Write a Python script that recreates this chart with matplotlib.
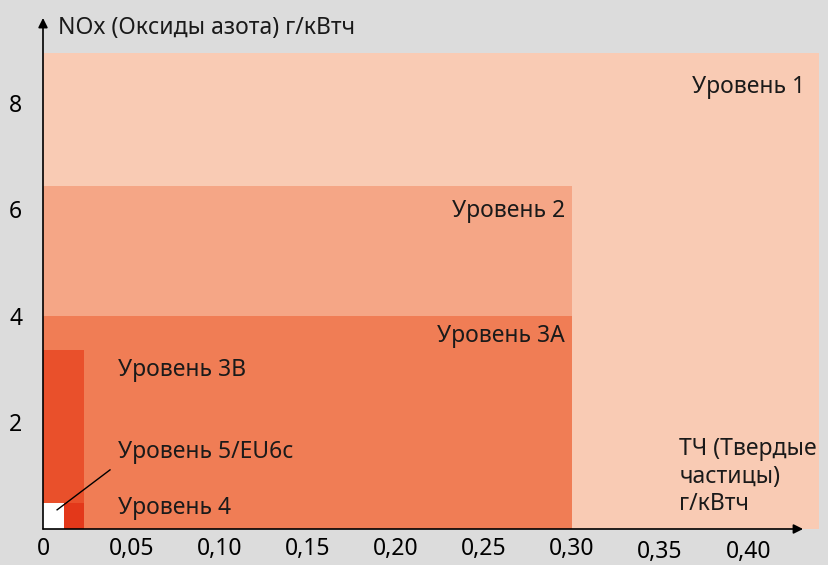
import matplotlib
matplotlib.use("Agg")
import matplotlib.pyplot as plt
from matplotlib.transforms import ScaledTranslation

plt.rcParams['font.family'] = ['Noto Sans', 'DejaVu Sans']

# stages: PM limit (g/kWh), NOx limit (g/kWh), colour
stages = ['Уровень 1', 'Уровень 2', 'Уровень 3A', 'Уровень 3B', 'Уровень 4', 'Уровень 5/EU6c']
pm_lim = [0.44, 0.30, 0.30, 0.023, 0.023, 0.012]
nox_lim = [8.94, 6.44, 4.0, 3.36, 0.49, 0.49]
colors = ['#f9cbb4', '#f5a686', '#f07d55', '#e9502b', '#e3381a', '#ffffff']

xticks = [0, 0.05, 0.10, 0.15, 0.20, 0.25, 0.30, 0.35, 0.40]
xticklabels = ['0', '0,05', '0,10', '0,15', '0,20', '0,25', '0,30', '0,35', '0,40']
yticks = [2, 4, 6, 8]

bg = '#dcdcdc'
fs = 16.5

fig = plt.figure(figsize=(8.29, 5.65), dpi=100, facecolor=bg)
ax = fig.add_axes([43/829, 36/565, 786/829, 529/565])
ax.set_facecolor(bg)

for p, n, c in zip(pm_lim, nox_lim, colors):
    ax.bar(0, n, width=p, align='edge', color=c, linewidth=0, zorder=1)

ax.set_xlim(0, 0.4458)
ax.set_ylim(0, 9.934)
for s in ax.spines.values():
    s.set_visible(False)

ax.set_xticks(xticks)
ax.set_xticklabels(xticklabels, fontsize=fs)
ax.set_yticks(yticks)
ax.set_yticklabels([str(v) for v in yticks], fontsize=fs)
ax.tick_params(axis='x', length=0, pad=6)
ax.tick_params(axis='y', length=0, pad=15)
for lbl in ax.get_xticklabels()[-2:]:
    lbl.set_transform(lbl.get_transform() + ScaledTranslation(0, -2/72, fig.dpi_scale_trans))

# axes with arrows
arrow = dict(arrowstyle='-|>', color='black', lw=1.2, mutation_scale=14, shrinkA=0, shrinkB=0)
ax.annotate('', xy=(0.967, 0), xytext=(0, 0), xycoords='axes fraction', arrowprops=arrow, zorder=5)
ax.annotate('', xy=(0, 0.966), xytext=(0, 0), xycoords='axes fraction', arrowprops=arrow, zorder=5)

# labels
tc = '#1a1a1a'
ax.text(0.0085, 9.41, 'NOx (Оксиды азота) г/кВтч', fontsize=fs, color=tc, va='center', ha='left')
ax.text(0.432, 8.30, stages[0], fontsize=fs, color=tc, va='center', ha='right')
ax.text(0.296, 5.97, stages[1], fontsize=fs, color=tc, va='center', ha='right')
ax.text(0.296, 3.62, stages[2], fontsize=fs, color=tc, va='center', ha='right')
ax.text(0.0425, 2.99, stages[3], fontsize=fs, color=tc, va='center', ha='left')
ax.text(0.0425, 1.45, stages[5], fontsize=fs, color=tc, va='center', ha='left')
ax.text(0.0425, 0.39, stages[4], fontsize=fs, color=tc, va='center', ha='left')
ax.text(0.361, 0.98, 'ТЧ (Твердые\nчастицы)\nг/кВтч', fontsize=fs, color=tc,
        va='center', ha='left', linespacing=1.2)

# pointer to stage 5 box
ax.plot([0.008, 0.038], [0.36, 1.11], color='black', lw=1)

fig.savefig('out.png', dpi=100, facecolor=bg)
